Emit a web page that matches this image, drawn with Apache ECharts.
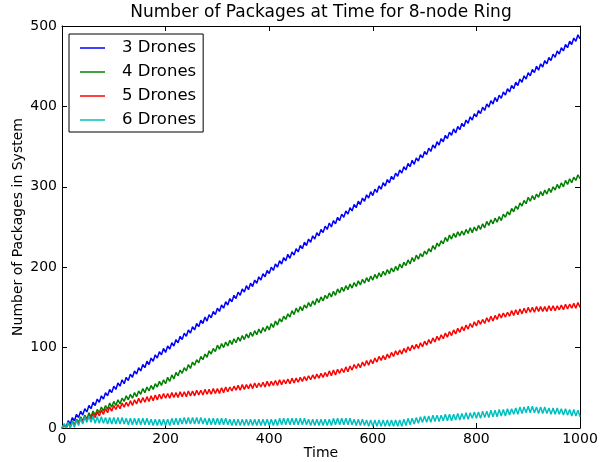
<!DOCTYPE html>
<html>
<head>
<meta charset="utf-8">
<script src="https://cdn.jsdelivr.net/npm/echarts@6/dist/echarts.min.js"></script>
<style>
html,body{margin:0;padding:0;background:#fff;}
#chart{width:612px;height:462px;}
</style>
</head>
<body>
<div id="chart"></div>
<script>
const chartTitle = "Number of Packages at Time for 8-node Ring";
const xAxisName = "Time";
const yAxisName = "Number of Packages in System";
const seriesNames = ["3 Drones", "4 Drones", "5 Drones", "6 Drones"];
const seriesColors = ["#0000ff", "#008000", "#ff0000", "#00bfbf"];
const xTicks = [0, 200, 400, 600, 800, 1000];
const yTicks = [0, 100, 200, 300, 400, 500];

const times = [
0,4,8,12,16,20,24,28,32,36,40,44,48,52,56,60,64,68,72,76,80,84,88,92,96,
100,104,108,112,116,120,124,128,132,136,140,144,148,152,156,160,164,168,172,176,180,184,188,192,196,
200,204,208,212,216,220,224,228,232,236,240,244,248,252,256,260,264,268,272,276,280,284,288,292,296,
300,304,308,312,316,320,324,328,332,336,340,344,348,352,356,360,364,368,372,376,380,384,388,392,396,
400,404,408,412,416,420,424,428,432,436,440,444,448,452,456,460,464,468,472,476,480,484,488,492,496,
500,504,508,512,516,520,524,528,532,536,540,544,548,552,556,560,564,568,572,576,580,584,588,592,596,
600,604,608,612,616,620,624,628,632,636,640,644,648,652,656,660,664,668,672,676,680,684,688,692,696,
700,704,708,712,716,720,724,728,732,736,740,744,748,752,756,760,764,768,772,776,780,784,788,792,796,
800,804,808,812,816,820,824,828,832,836,840,844,848,852,856,860,864,868,872,876,880,884,888,892,896,
900,904,908,912,916,920,924,928,932,936,940,944,948,952,956,960,964,968,972,976,980,984,988,992,996,
1000];

const drones3 = [
0,5,1,9,5,13,9,17,13,21,
16,24,20,28,24,32,28,36,32,40,36,44,40,48,44,52,48,56,52,60,
55,63,59,67,63,71,67,75,71,79,75,83,79,87,83,91,87,95,91,99,
94,102,98,106,102,110,106,114,110,118,114,122,118,126,122,130,126,134,130,138,
133,141,137,145,141,149,145,153,149,157,153,161,157,165,161,169,165,173,169,177,
172,180,176,184,180,188,184,192,188,196,192,200,196,204,200,208,204,212,208,216,
211,219,215,223,219,227,223,231,227,235,231,239,235,243,239,247,243,251,247,255,
250,258,254,262,258,266,262,270,266,274,270,278,274,282,278,286,282,290,286,294,
289,297,293,301,297,305,301,309,305,313,309,317,313,321,317,325,321,329,325,333,
328,336,332,340,336,344,340,348,344,352,348,356,352,360,356,364,360,368,364,372,
367,375,371,379,375,383,379,387,383,391,387,395,391,399,395,403,399,407,403,411,
406,414,410,418,414,422,418,426,422,430,426,434,430,438,434,442,438,446,442,450,
445,453,449,457,453,461,457,465,461,469,465,473,469,477,473,481,477,485,481,489,
484];

const drones4 = [
0,4,0,7,2,9,4,11,7,14,9,16,11,19,14,21,16,23,19,26,21,28,23,31,26,33,
28,35,30,37,33,40,35,42,37,44,39,46,42,49,44,51,46,53,48,55,51,58,53,60,55,
63,58,66,61,69,65,72,68,75,71,79,74,82,78,85,81,89,85,92,88,96,92,99,95,103,
98,105,100,107,102,109,104,111,106,113,108,115,110,117,112,119,114,121,116,123,118,125,120,127,122,
130,125,133,128,136,132,139,135,142,138,146,141,149,144,151,146,153,149,156,151,158,153,161,156,163,
158,165,161,168,163,170,165,173,168,175,170,177,172,179,174,181,176,183,178,185,180,187,182,189,184,
191,186,193,188,195,190,197,192,199,194,201,196,204,199,206,202,209,204,212,207,215,210,217,213,220,
216,223,219,227,222,230,226,233,229,237,232,240,235,242,237,244,239,245,240,247,242,249,243,250,245,
252,247,254,249,257,252,259,254,261,256,263,258,266,262,269,265,273,269,276,272,280,276,283,279,287,
282,289,284,291,287,294,289,296,291,298,293,300,296,303,298,305,300,308,303,310,305,312,308,315,310];

const drones5 = [
0,4,0,6,1,8,3,10,5,12,7,14,9,16,11,18,13,20,15,22,17,24,19,26,21,28,
23,29,24,31,26,32,27,34,28,35,30,37,31,38,32,39,33,40,34,41,35,42,36,43,37,
43,37,44,38,44,38,45,39,45,39,46,40,46,40,47,41,47,41,48,42,48,42,49,43,49,
43,50,44,51,45,51,46,52,47,53,47,54,48,54,49,55,49,56,50,56,51,57,51,58,52,
58,53,59,53,60,54,60,55,61,55,62,56,62,57,63,58,64,59,65,60,66,61,67,62,68,
63,69,64,71,65,72,66,73,68,74,69,76,70,77,72,79,74,80,75,82,77,84,78,85,80,
87,82,89,84,90,85,92,87,94,89,96,91,97,92,99,94,101,96,103,98,104,99,106,101,108,
103,110,105,112,107,114,109,116,111,118,113,120,115,122,117,124,119,126,121,128,123,130,125,132,127,
134,129,135,130,137,132,139,133,140,135,142,137,143,138,144,139,146,140,147,141,148,142,149,143,150,
144,150,144,151,145,151,145,151,145,152,146,152,146,152,147,153,147,154,148,154,149,155,149,156,150];

const drones6 = [
0,5,0,7,0,8,1,10,3,12,5,14,7,15,7,15,6,14,6,14,6,13,5,13,5,13,
5,13,5,13,5,12,4,12,4,12,4,12,4,12,4,12,4,11,3,11,3,11,3,11,3,
11,3,12,4,12,4,12,5,13,5,13,5,13,5,13,5,13,5,12,4,12,4,12,4,12,
4,12,4,12,4,11,3,11,3,11,3,11,3,11,3,11,3,11,3,11,3,11,3,11,3,
11,3,11,3,12,4,12,4,12,4,12,4,12,4,12,4,12,4,11,3,11,3,11,3,11,
3,11,3,11,3,12,4,12,4,12,4,12,4,12,4,11,3,11,3,11,3,10,2,10,2,
10,2,10,2,10,2,10,2,10,2,10,2,10,2,11,3,12,4,12,5,13,6,14,7,15,
7,15,7,16,8,16,8,16,9,17,9,17,9,17,10,18,10,18,11,19,11,19,12,20,12,
20,12,21,13,21,13,22,14,22,14,23,15,23,15,24,16,24,17,25,17,26,18,26,19,27,
19,27,19,26,18,26,18,26,18,25,17,25,17,25,17,24,16,24,16,23,15,23,15,22,14];

const seriesValues = [drones3, drones4, drones5, drones6];
const FONT = "DejaVu Sans";

function pairs(vals) {
  return vals.map((v, i) => [times[i], v]);
}
function plainLabel(v) { return String(v); }

const xAxisBase = {
  type: 'value', min: xTicks[0], max: xTicks[xTicks.length - 1], interval: 200,
  axisLine: { show: true, onZero: false, lineStyle: { color: '#000', width: 1 } },
  axisTick: { show: true, inside: true, length: 5, lineStyle: { color: '#000', width: 1 } },
  splitLine: { show: false }
};
const yAxisBase = {
  type: 'value', min: yTicks[0], max: yTicks[yTicks.length - 1], interval: 100,
  axisLine: { show: true, onZero: false, lineStyle: { color: '#000', width: 1 } },
  axisTick: { show: true, inside: true, length: 5, lineStyle: { color: '#000', width: 1 } },
  splitLine: { show: false }
};

const chart = echarts.init(document.getElementById('chart'), null, { renderer: 'canvas' });
chart.setOption({
  animation: false,
  backgroundColor: '#ffffff',
  textStyle: { fontFamily: FONT },
  grid: { left: 62, right: 32, top: 26, bottom: 34, containLabel: false, outerBoundsMode: 'none' },
  graphic: [{
    type: 'text', x: 321, y: 13,
    style: { text: chartTitle, fill: '#000', font: '17px "DejaVu Sans"', textAlign: 'center', textVerticalAlign: 'middle' }
  }],
  xAxis: [
    Object.assign({}, xAxisBase, {
      position: 'bottom',
      name: xAxisName, nameLocation: 'middle', nameGap: 18, nameMoveOverlap: false,
      nameTextStyle: { color: '#000', fontSize: 14, fontFamily: FONT },
      axisLabel: { show: true, color: '#000', fontSize: 14, fontFamily: FONT, margin: 4, formatter: plainLabel }
    }),
    Object.assign({}, xAxisBase, { position: 'top', axisLabel: { show: false } })
  ],
  yAxis: [
    Object.assign({}, yAxisBase, {
      position: 'left',
      name: yAxisName, nameLocation: 'middle', nameGap: 37, nameRotate: 90, nameMoveOverlap: false,
      nameTextStyle: { color: '#000', fontSize: 14, fontFamily: FONT },
      axisLabel: { show: true, color: '#000', fontSize: 14, fontFamily: FONT, margin: 5, formatter: plainLabel }
    }),
    Object.assign({}, yAxisBase, { position: 'right', axisLabel: { show: false } })
  ],
  legend: {
    show: true, orient: 'vertical', left: 69, top: 34,
    backgroundColor: '#ffffff', borderColor: '#000', borderWidth: 1, borderRadius: 0,
    padding: [4, 7, 2, 11],
    icon: 'rect',
    itemWidth: 25, itemHeight: 1.5, itemGap: 4,
    textStyle: { color: '#000', fontSize: 16.5, fontFamily: FONT, lineHeight: 20, padding: [0, 0, 0, 12] },
    data: seriesNames
  },
  series: seriesNames.map((name, i) => ({
    name: name, type: 'line', xAxisIndex: 0, yAxisIndex: 0,
    data: pairs(seriesValues[i]),
    symbol: 'none', showSymbol: false,
    lineStyle: { color: seriesColors[i], width: 1.5 },
    itemStyle: { color: seriesColors[i] },
    emphasis: { disabled: true }
  }))
});
</script>
</body>
</html>
